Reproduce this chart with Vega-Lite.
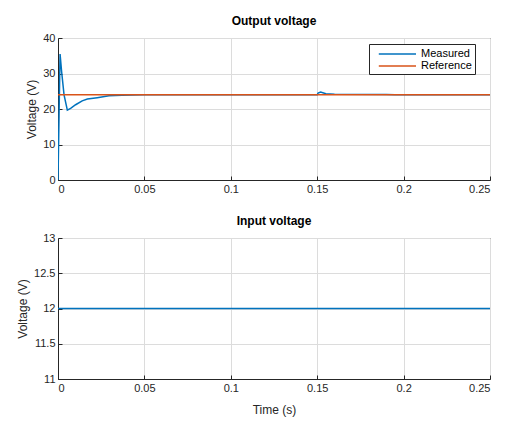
{
  "$schema": "https://vega.github.io/schema/vega-lite/v6.json",
  "background": "white",
  "padding": {"left": 16, "top": 14, "right": 5, "bottom": 5},
  "datasets": {
    "output": [
      {"t": 0, "v": 0, "series": "Measured"},
      {"t": 0.0006, "v": 18, "series": "Measured"},
      {"t": 0.0012, "v": 35.5, "series": "Measured"},
      {"t": 0.0021, "v": 30.5, "series": "Measured"},
      {"t": 0.0035, "v": 24, "series": "Measured"},
      {"t": 0.0054, "v": 19.7, "series": "Measured"},
      {"t": 0.0073, "v": 20.2, "series": "Measured"},
      {"t": 0.0102, "v": 21.2, "series": "Measured"},
      {"t": 0.014, "v": 22.3, "series": "Measured"},
      {"t": 0.017, "v": 22.8, "series": "Measured"},
      {"t": 0.0227, "v": 23.2, "series": "Measured"},
      {"t": 0.0295, "v": 23.7, "series": "Measured"},
      {"t": 0.037, "v": 23.9, "series": "Measured"},
      {"t": 0.05, "v": 24.0, "series": "Measured"},
      {"t": 0.1, "v": 24.0, "series": "Measured"},
      {"t": 0.15, "v": 24.0, "series": "Measured"},
      {"t": 0.1505, "v": 24.5, "series": "Measured"},
      {"t": 0.152, "v": 24.8, "series": "Measured"},
      {"t": 0.155, "v": 24.3, "series": "Measured"},
      {"t": 0.16, "v": 24.15, "series": "Measured"},
      {"t": 0.19, "v": 24.1, "series": "Measured"},
      {"t": 0.195, "v": 24.0, "series": "Measured"},
      {"t": 0.25, "v": 24.0, "series": "Measured"},
      {"t": 0, "v": 24, "series": "Reference"},
      {"t": 0.25, "v": 24, "series": "Reference"}
    ],
    "input": [
      {"t": 0, "v": 12},
      {"t": 0.25, "v": 12}
    ]
  },
  "vconcat": [
    {
      "title": "Output voltage",
      "width": 432,
      "height": 142,
      "data": {"name": "output"},
      "mark": {"type": "line", "strokeWidth": 1.5, "clip": true},
      "encoding": {
        "x": {
          "field": "t",
          "type": "quantitative",
          "scale": {"domain": [0, 0.25], "nice": false},
          "axis": {"values": [0, 0.05, 0.1, 0.15, 0.2, 0.25], "format": "~g", "title": null}
        },
        "y": {
          "field": "v",
          "type": "quantitative",
          "scale": {"domain": [0, 40], "nice": false},
          "axis": {"values": [0, 10, 20, 30, 40], "format": "d", "title": "Voltage (V)"}
        },
        "color": {
          "field": "series",
          "type": "nominal",
          "scale": {"domain": ["Measured", "Reference"], "range": ["#0072BD", "#D95319"]},
          "legend": {
            "title": null,
            "orient": "none",
            "legendX": 311,
            "legendY": 6,
            "symbolType": "M-5.2,0H1",
            "symbolSize": 144,
            "symbolOffset": 31,
            "symbolStrokeWidth": 1.5,
            "strokeColor": "#262626",
            "fillColor": "white",
            "padding": 3,
            "labelFontSize": 11,
            "labelFont": "Liberation Sans",
            "labelColor": "#000000",
            "labelOffset": 4,
            "labelExpr": "datum.label + '\u00a0\u00a0\u00a0\u00a0\u00a0\u00a0\u00a0\u00a0\u00a0\u00a0\u00a0'",
            "rowPadding": 0
          }
        }
      }
    },
    {
      "title": "Input voltage",
      "width": 432,
      "height": 141,
      "data": {"name": "input"},
      "mark": {"type": "line", "strokeWidth": 1.5, "color": "#0072BD"},
      "encoding": {
        "x": {
          "field": "t",
          "type": "quantitative",
          "scale": {"domain": [0, 0.25], "nice": false},
          "axis": {"values": [0, 0.05, 0.1, 0.15, 0.2, 0.25], "format": "~g", "title": "Time (s)", "titlePadding": 11}
        },
        "y": {
          "field": "v",
          "type": "quantitative",
          "scale": {"domain": [11, 13], "nice": false},
          "axis": {"values": [11, 11.5, 12, 12.5, 13], "format": "~g", "title": "Voltage (V)"}
        }
      }
    }
  ],
  "spacing": 19,
  "config": {
    "font": "Liberation Sans",
    "view": {"stroke": "#262626", "strokeWidth": 1},
    "title": {"fontSize": 12, "fontWeight": "bold", "color": "#000000", "offset": 4, "font": "Liberation Sans"},
    "axis": {
      "labelFont": "Liberation Sans",
      "labelFontSize": 11,
      "labelColor": "#262626",
      "titleFont": "Liberation Sans",
      "titleFontSize": 12,
      "titleFontWeight": "normal",
      "titleColor": "#262626",
      "gridColor": "#dcdcdc",
      "domainColor": "#262626",
      "ticks": true,
      "tickSize": -4,
      "tickColor": "#262626",
      "labelPadding": 7
    }
  }
}
